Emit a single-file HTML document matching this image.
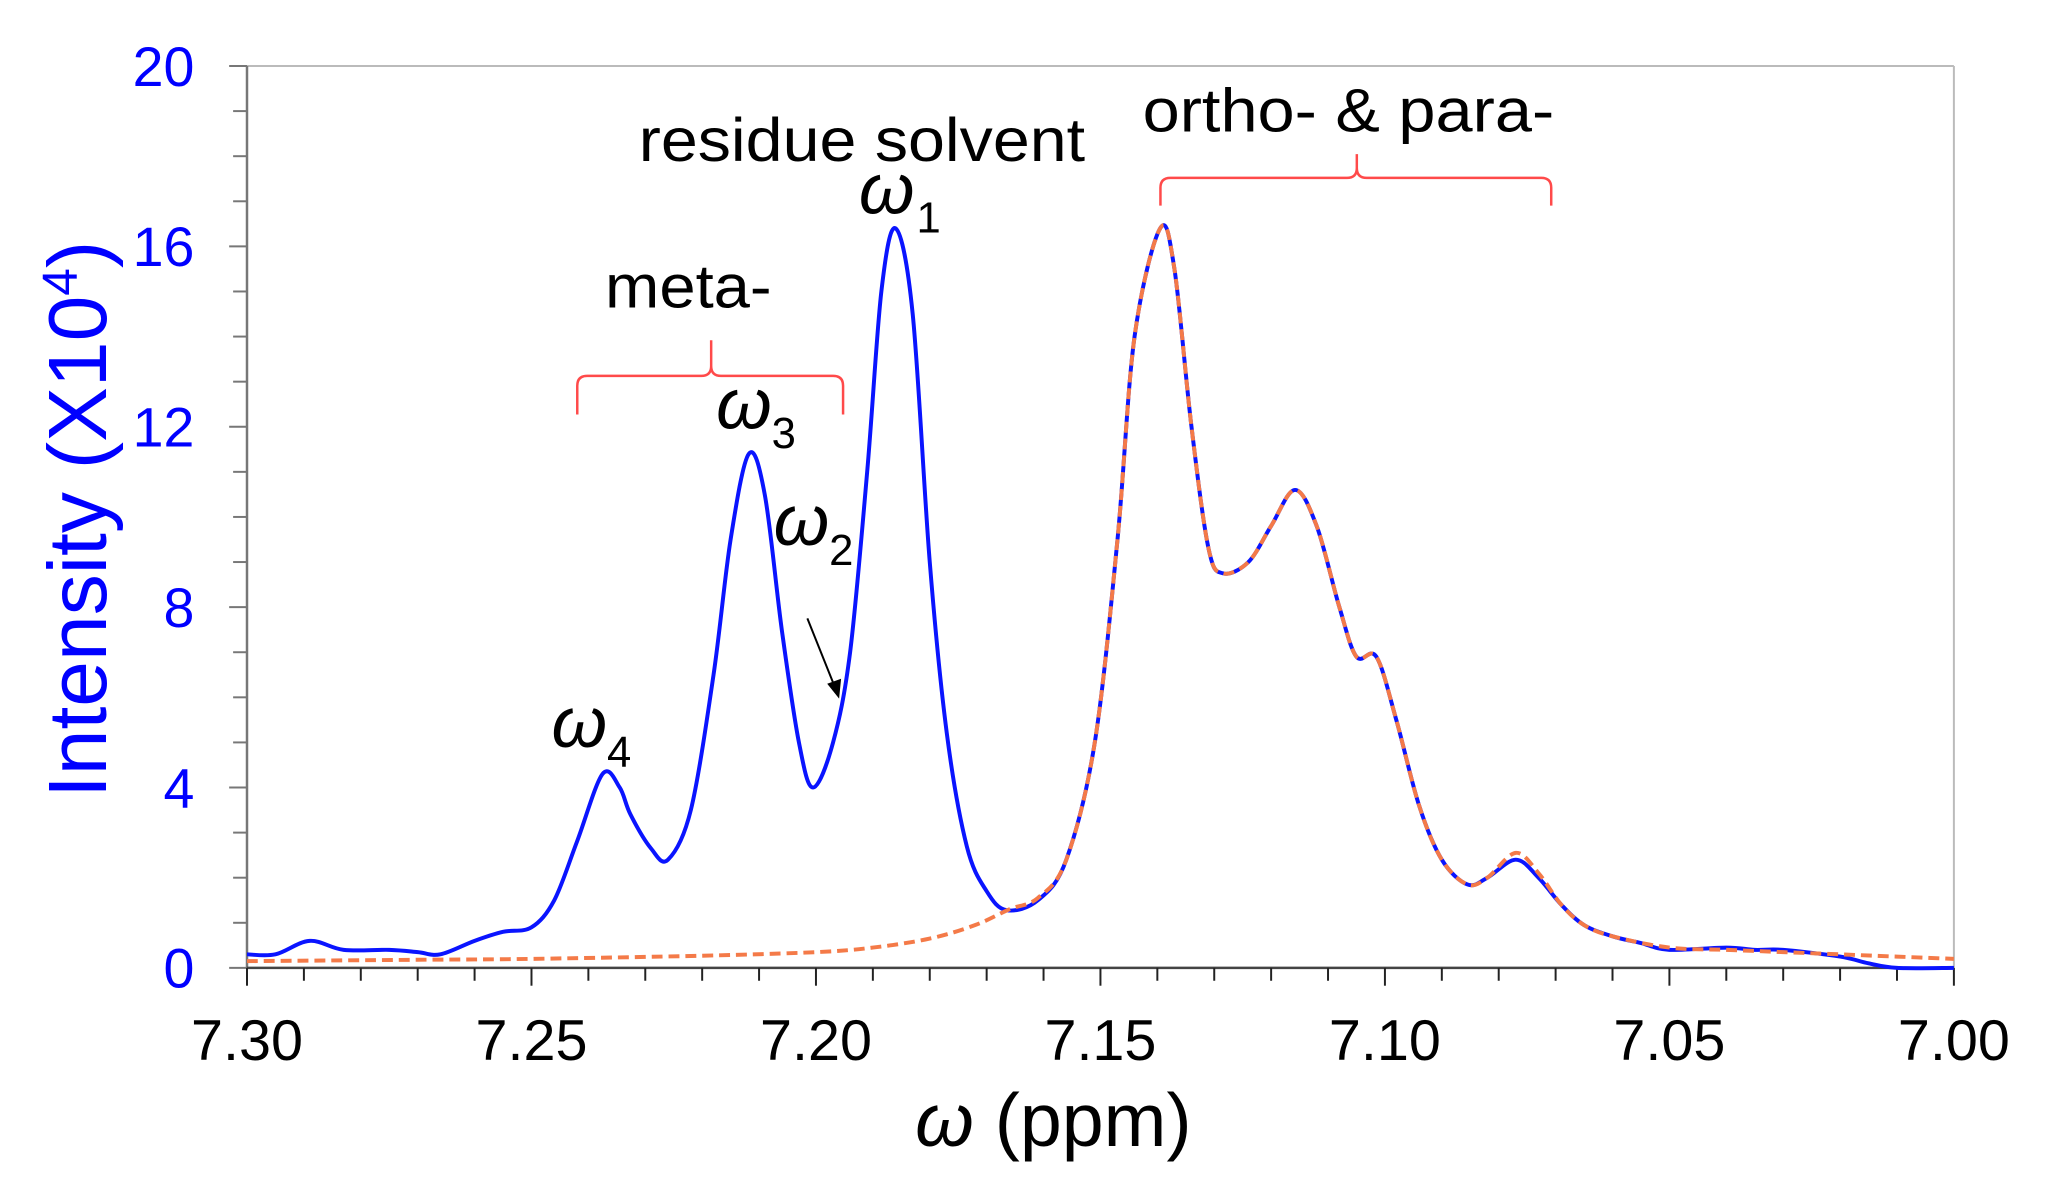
<!DOCTYPE html>
<html><head><meta charset="utf-8">
<style>
html,body{margin:0;padding:0;background:#fff;}
svg{display:block;font-family:"Liberation Sans",Arial,sans-serif;}
</style></head>
<body>
<svg id="chart" width="2057" height="1192" viewBox="0 0 2057 1192" xmlns="http://www.w3.org/2000/svg">
  <rect x="0" y="0" width="2057" height="1192" fill="#fff"/>
  <g transform="translate(247,66) scale(0.9918,0.990) translate(-247,-66)">
  <g id="frame">
    <line x1="247" y1="66" x2="1968" y2="66" stroke="#bbb" stroke-width="2"/>
    <line x1="1968" y1="66" x2="1968" y2="977" stroke="#bbb" stroke-width="2"/>
  </g>
  <g id="yaxis"></g>
  <g id="xaxis"></g>
  <g id="series"></g>

  <text x="0" y="0" transform="translate(105,524) rotate(-90)" text-anchor="middle" font-size="83" fill="#0000ff">Intensity (X10<tspan font-size="50" dy="-30">4</tspan><tspan dy="30">)</tspan></text>
  <text x="1060" y="1157" text-anchor="middle" font-size="76" fill="#000"><tspan font-style="italic">ω</tspan> (ppm)</text>

  <text x="642" y="162" font-size="62" textLength="450" lengthAdjust="spacingAndGlyphs" fill="#000">residue solvent</text>
  <text x="1150" y="132" font-size="62" textLength="415" lengthAdjust="spacingAndGlyphs" fill="#000">ortho- &amp; para-</text>
  <text x="608" y="310" font-size="62" textLength="168" lengthAdjust="spacingAndGlyphs" fill="#000">meta-</text>

  <path d="M580,418 L580,389 Q580,379 590,379 L705,379 Q715,379 715,369 L715,343 L715,369 Q715,379 725,379 L838,379 Q848,379 848,389 L848,418" fill="none" stroke="#ff4a4a" stroke-width="2.5"/>
  <path d="M1168,207 L1168,189 Q1168,179 1178,179 L1356,179 Q1366,179 1366,169 L1366,155 L1366,169 Q1366,179 1376,179 L1552,179 Q1562,179 1562,189 L1562,207" fill="none" stroke="#ff4a4a" stroke-width="2.5"/>

  <g font-style="italic" fill="#000">
    <text x="864" y="215" font-size="72">ω<tspan x="922" y="234" font-size="44" font-style="normal">1</tspan></text>
    <text x="720" y="432" font-size="72">ω<tspan x="776" y="452" font-size="44" font-style="normal">3</tspan></text>
    <text x="778" y="550" font-size="72">ω<tspan x="834" y="570" font-size="44" font-style="normal">2</tspan></text>
    <text x="554" y="754" font-size="72">ω<tspan x="610" y="774" font-size="44" font-style="normal">4</tspan></text>
  </g>
  <g>
    <line x1="812" y1="624" x2="840" y2="694" stroke="#000" stroke-width="2"/>
    <polygon points="844,705 832,690 846,685" fill="#000"/>
  </g>
  </g>
</svg>
<script>
const ppm = [7.300,7.295,7.289,7.283,7.275,7.270,7.266,7.260,7.255,7.250,7.246,7.242,7.2375,7.2345,7.2326,7.229,7.226,7.222,7.218,7.215,7.2118,7.209,7.206,7.203,7.2005,7.197,7.194,7.191,7.1885,7.186,7.183,7.180,7.177,7.1735,7.170,7.1665,7.161,7.156,7.151,7.147,7.144,7.1395,7.137,7.134,7.131,7.1285,7.124,7.120,7.1158,7.112,7.108,7.105,7.1015,7.098,7.094,7.090,7.0855,7.082,7.077,7.073,7.069,7.065,7.060,7.055,7.050,7.040,7.035,7.030,7.020,7.015,7.010,7.000];
const intensity = [0.3,0.3,0.6,0.4,0.4,0.35,0.3,0.6,0.8,0.9,1.5,2.8,4.3,4.0,3.4,2.65,2.4,3.5,6.5,9.5,11.4,10.5,7.5,5.0,4.0,5.0,7.0,11.0,15.0,16.4,14.5,9.0,5.2,2.7,1.7,1.28,1.5,2.4,5.0,9.5,14.0,16.4,15.5,12.0,9.3,8.75,9.0,9.8,10.6,9.8,8.0,6.9,6.9,5.5,3.6,2.4,1.85,2.0,2.4,2.0,1.4,0.95,0.7,0.55,0.4,0.45,0.4,0.4,0.25,0.1,0.0,0.0];
const fitPpm = [7.300,7.270,7.250,7.220,7.200,7.190,7.180,7.172,7.166,7.161,7.156,7.151,7.147,7.144,7.1395,7.137,7.134,7.131,7.1285,7.124,7.120,7.1158,7.112,7.108,7.105,7.1015,7.098,7.094,7.090,7.0855,7.082,7.077,7.073,7.069,7.065,7.060,7.050,7.040,7.030,7.020,7.010,7.000];
const fitIntensity = [0.15,0.18,0.2,0.27,0.35,0.45,0.65,0.95,1.3,1.55,2.4,5.0,9.5,14.0,16.4,15.5,12.0,9.3,8.75,9.0,9.8,10.6,9.8,8.0,6.9,6.9,5.5,3.6,2.4,1.85,2.0,2.55,2.1,1.4,0.95,0.7,0.45,0.4,0.35,0.3,0.25,0.2];
const yTicks = [0,4,8,12,16,20];
const xTicks = [7.30,7.25,7.20,7.15,7.10,7.05,7.00];
const xTickLabels = ["7.30","7.25","7.20","7.15","7.10","7.05","7.00"];

const NS = "http://www.w3.org/2000/svg";
const X0 = 247, X1 = 1968, Y0 = 977, Y1 = 66;
function xs(v){ return X0 + (7.30 - v) / 0.30 * (X1 - X0); }
function ys(v){ return Y0 - v / 20 * (Y0 - Y1); }
function mk(tag, attrs, parent){ const e = document.createElementNS(NS, tag); for (const k in attrs) e.setAttribute(k, attrs[k]); parent.appendChild(e); return e; }

const yg = document.getElementById('yaxis');
const yl = mk('line', {x1:X0, y1:Y0, x2:X0, y2:Y1, stroke:'#777', 'stroke-width':2.5}, yg);


for (let v = 0; v <= 20; v += 1) {
  const major = v % 4 === 0;
  const t = mk('line', {x1: major ? 229 : 233, y1: ys(v), x2: X0, y2: ys(v), stroke:'#777', 'stroke-width':2}, yg);
  
  
}
yTicks.forEach(v => {
  const t = mk('text', {x:194, y: ys(v) + 20, 'text-anchor':'end', 'font-size':56, fill:'#0000ff'}, yg);
  t.textContent = String(v);
  
  
});

const xg = document.getElementById('xaxis');
const xl = mk('line', {x1:X0, y1:Y0, x2:X1, y2:Y0, stroke:'#444', 'stroke-width':2.5}, xg);


for (let i = 0; i <= 30; i++) {
  const v = 7.30 - i * 0.01;
  const major = i % 5 === 0;
  const t = mk('line', {x1: xs(v), y1: Y0, x2: xs(v), y2: Y0 + (major ? 18 : 13), stroke:'#222', 'stroke-width':2}, xg);
  
  
}
xTicks.forEach((v, i) => {
  const t = mk('text', {x: xs(v), y: 1070, 'text-anchor':'middle', 'font-size':58, fill:'#000'}, xg);
  t.textContent = xTickLabels[i];
  
  
});

function smoothPath(px, py){
  const pts = px.map((v, i) => [xs(v), ys(py[i])]);
  let d = 'M' + pts[0][0].toFixed(1) + ',' + pts[0][1].toFixed(1);
  for (let i = 0; i < pts.length - 1; i++) {
    const p0 = pts[Math.max(0, i - 1)], p1 = pts[i], p2 = pts[i + 1], p3 = pts[Math.min(pts.length - 1, i + 2)];
    const c1 = [p1[0] + (p2[0] - p0[0]) / 6, p1[1] + (p2[1] - p0[1]) / 6];
    const c2 = [p2[0] - (p3[0] - p1[0]) / 6, p2[1] - (p3[1] - p1[1]) / 6];
    d += 'C' + c1[0].toFixed(1) + ',' + c1[1].toFixed(1) + ' ' + c2[0].toFixed(1) + ',' + c2[1].toFixed(1) + ' ' + p2[0].toFixed(1) + ',' + p2[1].toFixed(1);
  }
  return d;
}
const sg = document.getElementById('series');
const blue = mk('path', {d: smoothPath(ppm, intensity), fill:'none', stroke:'#0a14ff', 'stroke-width':4, 'stroke-linejoin':'round'}, sg);


const fit = mk('path', {d: smoothPath(fitPpm, fitIntensity), fill:'none', stroke:'#f47a48', 'stroke-width':4, 'stroke-dasharray':'11 6'}, sg);


</script>
</body></html>
